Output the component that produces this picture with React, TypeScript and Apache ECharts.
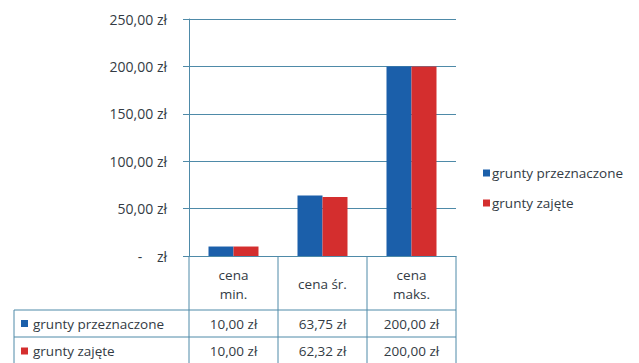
import React, { useEffect, useRef } from "react";
import * as echarts from "echarts";

const categories = ["cena\nmin.", "cena śr.", "cena\nmaks."];
const seriesNames = ["grunty przeznaczone", "grunty zajęte"];
const przeznaczone = [10.0, 63.75, 200.0];
const zajete = [10.0, 62.32, 200.0];
const yTicks = [0, 50, 100, 150, 200, 250];

const COLORS = ["#1b5faa", "#d42e2e"];
const LINE = "#4e8aa8";
const TEXT = "#333b44";
const FONT = "'Open Sans', sans-serif";
const FS = 13.5;

const G_LEFT = 189;
const G_RIGHT = 456;
const G_TOP = 19;
const G_BOTTOM = 256;

const fmt = (v: number) =>
  v === 0 ? "-    zł" : v.toFixed(2).replace(".", ",") + " zł";

export default function App() {
  const ref = useRef<HTMLDivElement>(null);
  useEffect(() => {
    if (!ref.current) return;
    const chart = echarts.init(ref.current, null, { renderer: "svg" });
    const n = categories.length;
    const colW = (G_RIGHT - G_LEFT) / n;
    const headerBottom = 310;
    const rowLine = 337;
    const tableBottom = 363;
    const tableLeft = 14;
    const graphics: any[] = [];
    for (let i = 0; i <= n; i++) {
      const x = G_LEFT + i * colW;
      graphics.push({
        type: "line",
        shape: { x1: x, y1: G_BOTTOM, x2: x, y2: tableBottom },
        style: { stroke: LINE, lineWidth: 1 },
      });
    }
    graphics.push({
      type: "line",
      shape: { x1: tableLeft, y1: headerBottom, x2: tableLeft, y2: tableBottom },
      style: { stroke: LINE, lineWidth: 1 },
    });
    [headerBottom, rowLine].forEach((y) =>
      graphics.push({
        type: "line",
        shape: { x1: tableLeft, y1: y, x2: G_RIGHT, y2: y },
        style: { stroke: LINE, lineWidth: 1 },
      })
    );
    categories.forEach((c, i) => {
      graphics.push({
        type: "text",
        x: G_LEFT + (i + 0.5) * colW,
        y: (G_BOTTOM + headerBottom) / 2 + 1,
        style: {
          text: c,
          fill: TEXT,
          font: `${FS}px ${FONT}`,
          align: "center",
          verticalAlign: "middle",
          lineHeight: 19,
        },
      });
    });
    const rows = [przeznaczone, zajete];
    const rowCenters = [(headerBottom + rowLine) / 2, rowLine + 14];
    rows.forEach((vals, r) => {
      const yc = rowCenters[r];
      graphics.push({
        type: "rect",
        shape: { x: 21, y: yc - 3.5, width: 7, height: 7 },
        style: { fill: COLORS[r] },
      });
      graphics.push({
        type: "text",
        x: 33,
        y: yc,
        style: {
          text: seriesNames[r],
          fill: TEXT,
          font: `${FS}px ${FONT}`,
          align: "left",
          verticalAlign: "middle",
        },
      });
      vals.forEach((v, i) => {
        graphics.push({
          type: "text",
          x: G_LEFT + (i + 0.5) * colW,
          y: yc,
          style: {
            text: fmt(v),
            fill: TEXT,
            font: `${FS}px ${FONT}`,
            align: "center",
            verticalAlign: "middle",
          },
        });
      });
    });

    chart.setOption({
      animation: false,
      textStyle: { fontFamily: FONT },
      grid: {
        left: G_LEFT,
        right: 639 - G_RIGHT,
        top: G_TOP,
        bottom: 363 - G_BOTTOM,
        containLabel: false,
      },
      legend: {
        orient: "vertical",
        left: 483,
        top: 165,
        itemWidth: 7,
        itemHeight: 7,
        itemGap: 14,
        icon: "rect",
        padding: 0,
        textStyle: { color: TEXT, fontSize: FS, fontFamily: FONT, padding: [0, 0, 0, -3], lineHeight: 16 },
        data: seriesNames,
      },
      xAxis: {
        type: "category",
        data: categories,
        axisLine: { show: true, lineStyle: { color: LINE, width: 1 } },
        axisTick: { show: false },
        axisLabel: { show: false },
      },
      yAxis: {
        type: "value",
        min: 0,
        max: 250,
        interval: 50,
        axisLine: { show: true, lineStyle: { color: LINE, width: 1 } },
        axisTick: { show: true, length: 6, lineStyle: { color: LINE } },
        axisLabel: {
          color: TEXT,
          fontSize: 14,
          fontFamily: FONT,
          margin: 22,
          formatter: (v: number) => (yTicks.includes(v) ? fmt(v) : ""),
        },
        splitLine: { show: true, lineStyle: { color: LINE, width: 1 } },
      },
      series: [
        {
          name: seriesNames[0],
          type: "bar",
          data: przeznaczone,
          barWidth: 25,
          barGap: "0%",
          itemStyle: { color: COLORS[0] },
        },
        {
          name: seriesNames[1],
          type: "bar",
          data: zajete,
          barWidth: 25,
          barGap: "0%",
          itemStyle: { color: COLORS[1] },
        },
      ],
      graphic: graphics,
    });
    return () => chart.dispose();
  }, []);
  return (
    <div
      ref={ref}
      style={{ position: "fixed", left: 0, top: 0, width: 639, height: 363, background: "#fff" }}
    />
  );
}
